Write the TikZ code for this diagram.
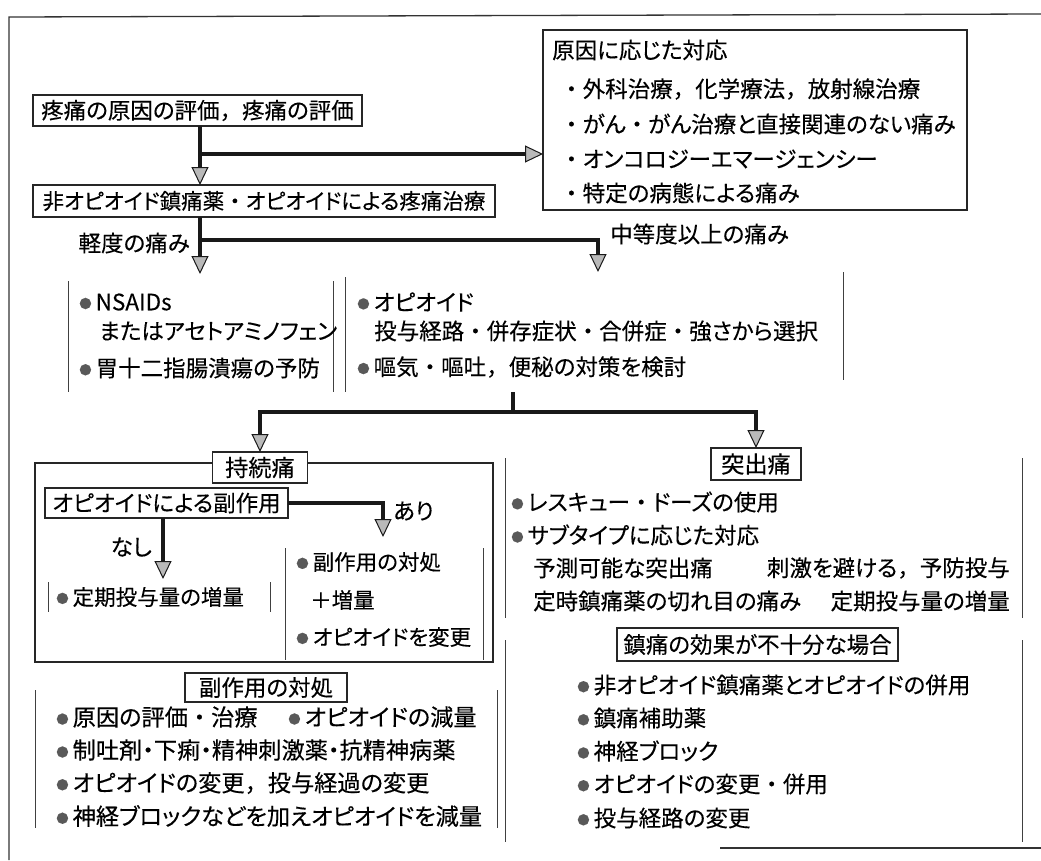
\documentclass[tikz,border=0pt]{standalone}
\usepackage{fontspec}
\setmainfont{Noto Sans CJK JP}[RawFeature=+palt,FakeBold=0.25]
\newfontfamily\jfull{Noto Sans CJK JP}[FakeBold=0.25]
\usetikzlibrary{arrows.meta,calc}
\newcommand\jcomma{{\jfull ，}}
\newcommand\jdot{{\jfull ・}}
\newcommand\jsz{\fontsize{22.5}{26}\selectfont}
\newcommand\jbig{\fontsize{23.2}{27}\selectfont}
\newcommand\jsmall{\fontsize{21.5}{26}\selectfont}
\newcommand\bul{\raisebox{2pt}{\fontsize{12.5}{12}\selectfont\textcolor{black!65}{●}}\hspace{4pt}}
\tikzset{
  ln/.style={draw=black!90, line width=3.2pt},
  arr/.style={draw=black!90, line width=3.2pt, -{Triangle[length=18pt,width=17pt,fill=gray!55,line width=1pt]}},
  box/.style={draw=black!85, line width=1.3pt, inner sep=0pt, outer sep=0pt, font=\jsz, fill=white},
  region/.style={inner sep=0pt, outer sep=0pt, draw=none},
  bar/.style={draw=black!75, line width=0.8pt},
  frame/.style={draw=black!80, line width=1.3pt},
  txt/.style={inner sep=0pt, anchor=west, font=\jsz, text=black},
}
\begin{document}
\begin{tikzpicture}[x=1pt,y=-1pt]
\useasboundingbox (0,0) rectangle (1041,860);
\fill[white] (0,0) rectangle (1041,860);
% outer frame (partly cut off)
\draw[frame] (9,860) -- (9,17) -- (1041,14);
\draw[frame] (720,848) -- (1041,848);

% top boxes
\node[box, minimum width=329pt, minimum height=31pt] (b1) at (197.5,110.5) {疼痛の原因の評価\jcomma 疼痛の評価};
\node[box, minimum width=462pt, minimum height=32pt, font=\jsmall] (b2) at (264,201) {非オピオイド鎮痛薬\jdot オピオイドによる疼痛治療};
\node[box, minimum width=424pt, minimum height=180pt] (cause) at (755,120) {};
\node[txt] (c0) at (552,50) {原因に応じた対応};
\node[txt] (c1) at (560,89) {\jdot 外科治療\jcomma 化学療法\jcomma 放射線治療};
\node[txt] (c2) at (560,124) {\jdot がん\jdot がん治療と直接関連のない痛み};
\node[txt] (c3) at (560,159) {\jdot オンコロジーエマージェンシー};
\node[txt] (c4) at (560,193) {\jdot 特定の病態による痛み};

\coordinate (j1) at (200,154);
\draw[arr] (b1.south -| j1) -- (j1 |- b2.north);
\draw[arr] (j1) -- (j1 -| cause.west);

% first split
\node[region, minimum width=265pt, minimum height=111pt] (l1) at (200.5,336.5) {};
\node[region, minimum width=498pt, minimum height=115pt] (l2) at (594,334.5) {};
\coordinate (j2) at (200,240);
\coordinate (j3) at (598,240);
\coordinate (tL) at (200,274);
\coordinate (tM) at (598,272);
\draw[arr] (b2.south -| j2) -- (tL);
\draw[arr] (j2) -- (j3) -- (tM);
\node[txt, anchor=east] (mild) at (190,243) {軽度の痛み};
\node[txt] (mod) at (610,234) {中等度以上の痛み};

\draw[bar] (l1.north west) -- (l1.south west);
\draw[bar] (l1.north east) -- (l1.south east);
\draw[bar] (l2.north west) -- (l2.south west);
\draw[bar] ([yshift=5pt]l2.north east) -- ([yshift=12pt]l2.south east);
\node[txt] (n1) at (79,302) {\bul NSAIDs};
\node[txt] (n2) at (99,331) {またはアセトアミノフェン};
\node[txt] (n3) at (79,368) {\bul 胃十二指腸潰瘍の予防};
\node[txt] (o1) at (357,302) {\bul オピオイド};
\node[txt] (o2) at (374,331) {投与経路\jdot 併存症状\jdot 合併症\jdot 強さから選択};
\node[txt] (o3) at (357,367) {\bul 嘔気\jdot 嘔吐\jcomma 便秘の対策を検討};

% second split
\coordinate (j4) at (513,412);
\node[box, minimum width=458pt, minimum height=199pt, fill=none, line width=1.1pt] (f1) at (264,562.5) {};
\node[box, minimum width=95pt, minimum height=31pt, font=\jbig] (p1) at (260,467.5) {持続痛};
\node[box, minimum width=90pt, minimum height=32pt, font=\jbig] (p2) at (756,464) {突出痛};
\draw[ln] (j4 |- l2.south) -- (j4);
\draw[arr] (j4) -| (p1.north);
\draw[arr] (j4) -| (p2.north);

% persistent pain internals
\node[box, minimum width=243pt, minimum height=30pt] (q1) at (166.5,503) {オピオイドによる副作用};
\coordinate (ja) at (383,503);
\coordinate (ta) at (383,537);
\coordinate (tn) at (163,579);
\draw[arr] (q1.east) -- (ja) -- (ta);
\draw[arr] (q1.south -| tn) -- (tn);
\node[txt] (ari) at (393,511) {あり};
\node[txt, anchor=east] (nasi) at (152,547) {なし};
\node[region, minimum width=222pt, minimum height=30pt] (r1) at (159,597) {};
\node[region, minimum width=198pt, minimum height=112pt] (r2) at (384,604) {};
\draw[bar] (r1.north west) -- (r1.south west);
\draw[bar] (r1.north east) -- (r1.south east);
\draw[bar] (r2.north west) -- (r2.south west);
\draw[bar] (r2.north east) -- (r2.south east);
\node[txt, font=\jsmall] (r1a) at (56,597) {\bul 定期投与量の増量};
\node[txt, font=\jsmall] (r2a) at (296,562) {\bul 副作用の対処};
\node[txt, font=\jsmall] (r2b) at (310,600) {＋増量};
\node[txt, font=\jsmall] (r2c) at (296,637) {\bul オピオイドを変更};

% side effect management
\node[region, minimum width=462pt, minimum height=138pt] (s4) at (266,759) {};
\draw[bar] (s4.north west) -- (s4.south west);
\draw[bar] (s4.north east) -- (s4.south east);
\node[box, minimum width=162pt, minimum height=29pt] (p4) at (266,687.5) {副作用の対処};
\node[txt, font=\jbig] (s4a) at (56,717) {\bul 原因の評価\jdot 治療};
\node[txt, font=\jbig] (s4b) at (288,717) {\bul オピオイドの減量};
\node[txt, font=\jbig] (s4c) at (56,750) {\bul 制吐剤・下痢・精神刺激薬・抗精神病薬};
\node[txt, font=\jbig] (s4d) at (56,783) {\bul オピオイドの変更\jcomma 投与経過の変更};
\node[txt, font=\jbig] (s4e) at (56,816) {\bul 神経ブロックなどを加えオピオイドを減量};

% breakthrough pain
\node[region, minimum width=517pt, minimum height=160pt] (s2) at (763.5,538) {};
\draw[bar] (s2.north west) -- (s2.south west);
\draw[bar] (s2.north east) -- (s2.south east);
\node[txt] (s2a) at (511,502) {\bul レスキュー\jdot ドーズの使用};
\node[txt] (s2b) at (511,535) {\bul サブタイプに応じた対応};
\node[txt] (s2c) at (533,568) {予測可能な突出痛};
\node[txt, anchor=east] (s2d) at (1010,568) {刺激を避ける\jcomma 予防投与};
\node[txt] (s2e) at (533,601) {定時鎮痛薬の切れ目の痛み};
\node[txt, anchor=east] (s2f) at (1010,601) {定期投与量の増量};

% insufficient analgesia
\node[region, minimum width=517pt, minimum height=202pt] (s3) at (763.5,741) {};
\draw[bar] (s3.north west) -- (s3.south west);
\draw[bar] (s3.north east) -- (s3.south east);
\node[box, minimum width=281pt, minimum height=33pt] (p3) at (757.5,644.5) {鎮痛の効果が不十分な場合};
\node[txt] (s3a) at (577,685) {\bul 非オピオイド鎮痛薬とオピオイドの併用};
\node[txt] (s3b) at (577,718) {\bul 鎮痛補助薬};
\node[txt] (s3c) at (577,751) {\bul 神経ブロック};
\node[txt] (s3d) at (577,784) {\bul オピオイドの変更\jdot 併用};
\node[txt] (s3e) at (577,818) {\bul 投与経路の変更};
\end{tikzpicture}
\end{document}
